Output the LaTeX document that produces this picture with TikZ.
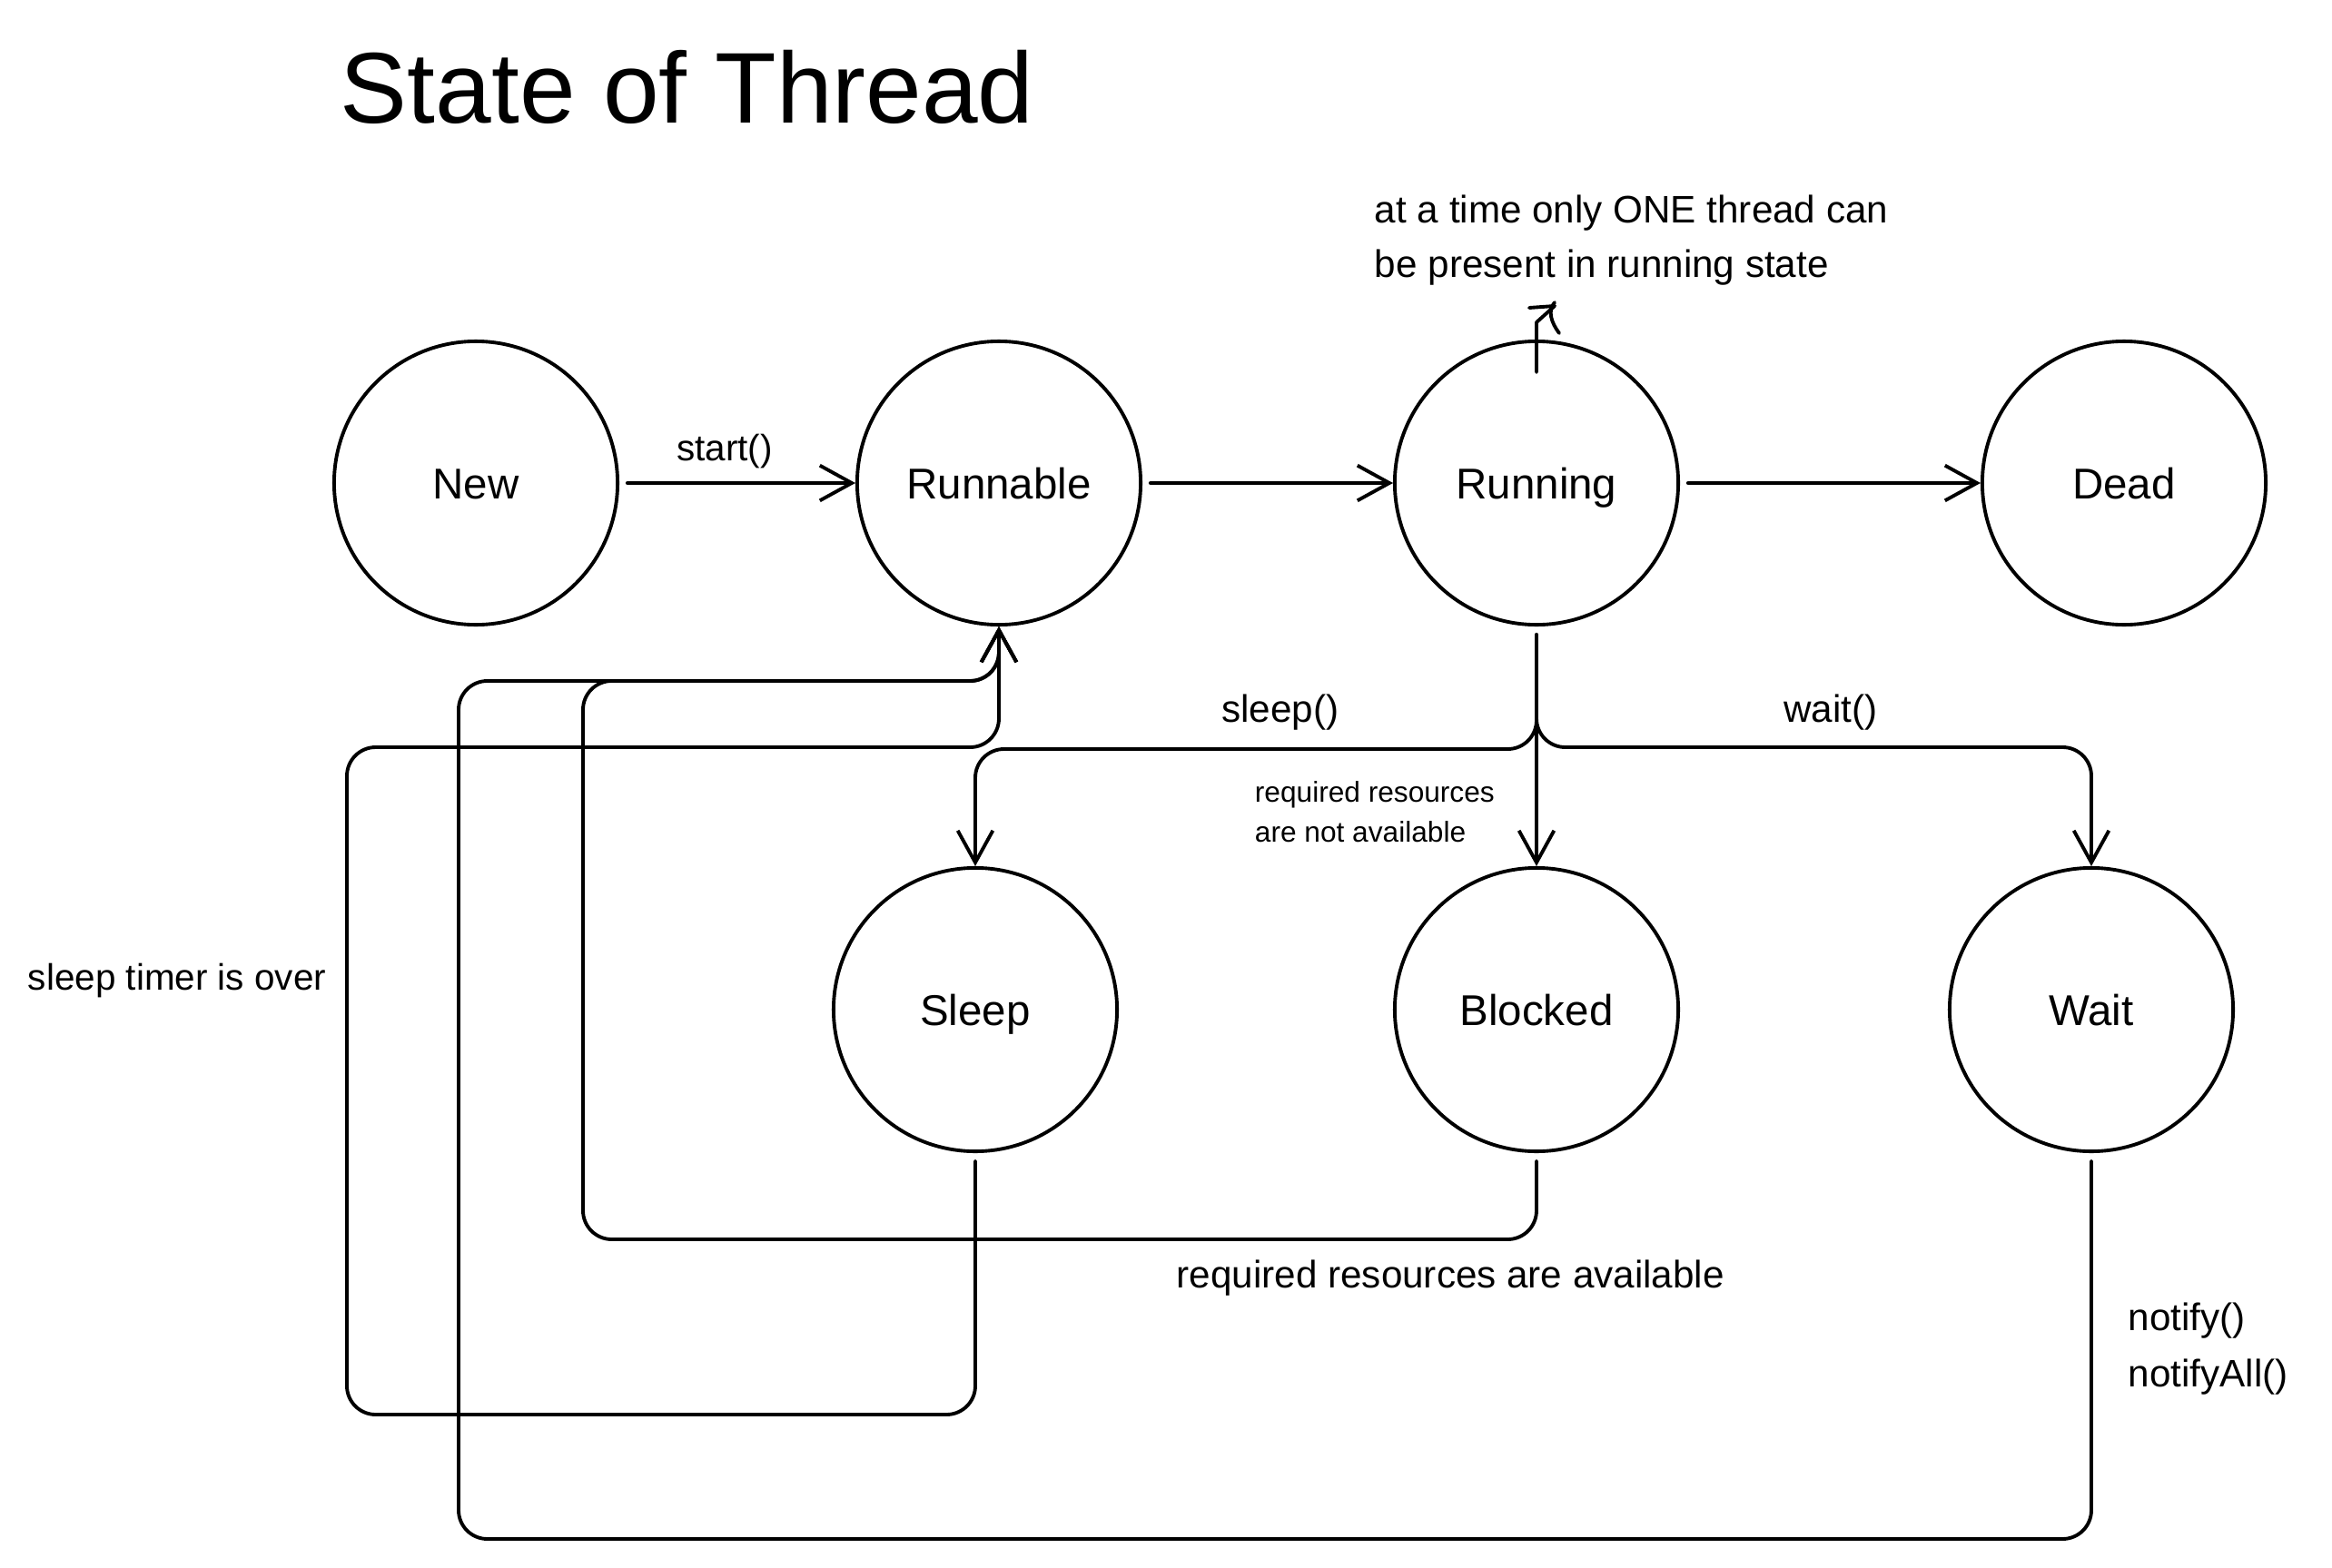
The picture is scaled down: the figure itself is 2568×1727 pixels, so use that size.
\documentclass[tikz,border=0pt]{standalone}
\usepackage{fontspec}
\setmainfont{Liberation Sans}
\usetikzlibrary{arrows.meta}
\begin{document}
\begin{tikzpicture}[x=0.01cm,y=-0.01cm,line width=1.1pt,line cap=round,line join=round,
  state/.style={circle,draw,minimum size=3.12cm,inner sep=0pt,text height=12.2pt,text depth=2.5pt,font=\fontsize{13.5}{16}\selectfont},
  arr/.style={-{Straight Barb[length=10pt,width=11pt]}},
  rc/.style={rounded corners=9pt},
  gap/.style={shorten <=2.5pt},
  lbl/.style={font=\fontsize{12}{17}\selectfont,inner sep=0pt,align=left},
  lbls/.style={font=\fontsize{11.5}{16}\selectfont,inner sep=0pt,align=left},
  small/.style={font=\fontsize{9}{12.5}\selectfont,inner sep=0pt,align=left}]
\fill[white] (0,0) rectangle (2568,1727);
\useasboundingbox (0,0) rectangle (2568,1727);

% title
\node[anchor=base west,inner sep=0pt,font=\fontsize{31.5}{36}\selectfont] (title) at (373,135) {State of Thread};

% states
\node[state] (new) at (524,532) {New};
\node[state] (runnable) at (1100,532) {Runnable};
\node[state] (running) at (1692,532) {Running};
\node[state] (dead) at (2339,532) {Dead};
\node[state] (sleep) at (1074,1112) {Sleep};
\node[state] (blocked) at (1692,1112) {Blocked};
\node[state] (wait) at (2303,1112) {Wait};

% top row
\draw[arr,gap] (new) -- (runnable);
\draw[arr,gap] (runnable) -- (running);
\draw[arr,gap] (running) -- (dead);
\node[lbls] (startlbl) at (798,497) {start()};

% annotation
\node[lbl,anchor=base west] (note) at (1512,305) {at a time only ONE thread can\\be present in running state};
\coordinate (annotip) at (1712,337);
\draw (running.north) ++(0,36) -- ++(0,-55) -- (annotip) -- ++(-28,2);
\draw (1712,333) .. controls (1704,342) and (1708,355) .. (1717,367);

% fan out of Running
\draw[arr,gap] (running.south) -- (blocked.north);
\draw[arr,rc,gap] (running.south) |- (1074,825) -- (sleep.north);
\draw[arr,rc,gap] (running.south) |- (2303,823) -- (wait.north);
\node[lbl] (sleeplbl) at (1410,785) {sleep()};
\node[lbl] (waitlbl) at (2016,785) {wait()};
\node[small,anchor=base west] (reqna) at (1380,927) {required resources\\are not available};

% returns to Runnable
\draw[arr,rc,gap] (sleep.south) |- (382,1558) |- (1100,823) -- (runnable.south);
\draw[arr,rc,gap] (blocked.south) |- (642,1365) |- (1100,750) -- (runnable.south);
\draw[arr,rc,gap] (wait.south) |- (505,1695) |- (1100,750) -- (runnable.south);

\node[lbls,anchor=base west] (timer) at (29,1090) {sleep timer is over};
\node[lbl,anchor=base west] (reqa) at (1294,1418) {required resources are available};
\node[lbl,anchor=base west,font=\fontsize{12}{17.6}\selectfont] (notify) at (2342,1527) {notify()\\notifyAll()};
\end{tikzpicture}
\end{document}
